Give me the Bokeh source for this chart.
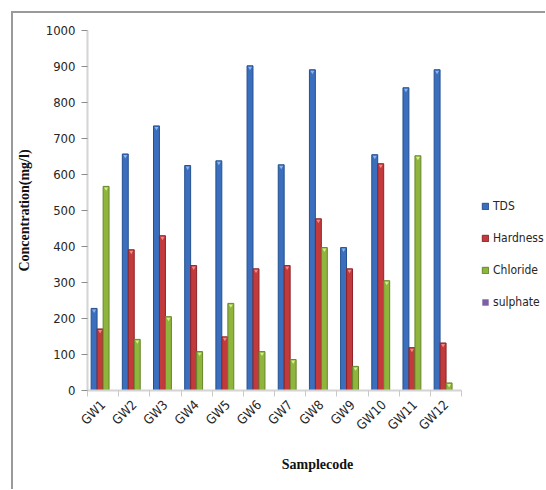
import numpy as np
from bokeh.plotting import figure
from bokeh.models import ColumnDataSource, FixedTicker, Legend, LegendItem
from bokeh.embed import file_html
from bokeh.resources import INLINE

# Sample codes and measured concentrations (mg/l)
samples = ["GW1", "GW2", "GW3", "GW4", "GW5", "GW6",
           "GW7", "GW8", "GW9", "GW10", "GW11", "GW12"]
tds = [228, 657, 735, 625, 638, 902, 627, 891, 397, 655, 841, 891]
hardness = [171, 391, 430, 347, 149, 338, 347, 477, 338, 630, 119, 132]
chloride = [567, 142, 205, 108, 242, 108, 86, 397, 67, 305, 652, 21]
sulphate = [0, 0, 0, 0, 0, 0, 0, 0, 0, 0, 0, 0]

series_names = ["TDS", "Hardness", "Chloride", "sulphate"]
series_values = [tds, hardness, chloride, sulphate]
fills = ["#3B6FBE", "#C23A3C", "#8FB53C", "#7D5FA6"]
edges = ["#24508F", "#8E2426", "#65862A", "#5A4280"]
tops = ["#8DB4EA", "#F08A8A", "#D6EE8E", "#B9A2DA"]
offsets = [-0.288, -0.096, 0.096, 0.288]
bar_w = 0.19

SANS = "DejaVu Sans Condensed"
SERIF = "Liberation Serif"

n = len(samples)
W, H = 534, 478
left_b, top_b = 73, 17
# plot area: 375 px for the samples, the rest of the width holds the legend
frame_w, sample_w = W - left_b, 375
x_end = n * frame_w / sample_w

p = figure(width=W, height=H, output_backend="svg", toolbar_location=None,
           x_range=(0, x_end), y_range=(0, 1000),
           min_border_left=left_b, min_border_right=0,
           min_border_top=top_b, min_border_bottom=H - top_b - 360)
p.outline_line_color = None
p.grid.grid_line_color = None
p.background_fill_color = "white"
p.border_fill_color = "white"
# grey chart-area border on the top and left
p.styles = {"margin-left": "11px", "margin-top": "11px",
            "border-left": "2px solid #9A9A9A",
            "border-top": "2px solid #9A9A9A",
            "overflow": "hidden"}

centers = np.arange(n) + 0.5
items = []
for name, vals, fc, ec, tc, off in zip(series_names, series_values, fills,
                                       edges, tops, offsets):
    vals = np.array(vals, dtype=float)
    src = ColumnDataSource(dict(x=centers + off, top=vals, cap=vals - 6))
    r = p.vbar(x="x", top="top", width=bar_w, source=src,
               fill_color=fc, line_color=ec if name != "sulphate" else None,
               line_width=1)
    if name != "sulphate":
        # small light bevel mark at the top of each bar
        p.scatter(x="x", y="cap", source=src, marker="inverted_triangle",
                  size=4, fill_color=tc, line_color=None)
    items.append(LegendItem(label=name, renderers=[r]))

# y axis
ya = p.yaxis[0]
ya.ticker = FixedTicker(ticks=list(range(0, 1001, 100)), minor_ticks=[])
ya.axis_line_color = "#D4D4D4"
ya.axis_line_width = 2
ya.major_tick_line_color = "#8C8C8C"
ya.major_tick_out = 6
ya.major_tick_in = 0
ya.minor_tick_line_color = None
ya.major_label_text_font = SANS
ya.major_label_text_font_size = "13px"
ya.major_label_text_color = "#262626"
ya.major_label_standoff = 6
ya.axis_label = "Concentration(mg/l)"
ya.axis_label_text_font = SERIF
ya.axis_label_text_font_style = "bold"
ya.axis_label_text_font_size = "14px"
ya.axis_label_text_color = "#111111"
ya.axis_label_standoff = 11

# x axis: labels at sample centres, ticks at sample boundaries
xa = p.xaxis[0]
xa.bounds = (0, n)
xa.ticker = FixedTicker(ticks=list(centers), minor_ticks=list(range(n + 1)))
xa.major_label_overrides = {float(c): s for c, s in zip(centers, samples)}
xa.major_tick_line_color = None
xa.major_tick_out = 0
xa.major_tick_in = 0
xa.minor_tick_line_color = "#C8C8C8"
xa.minor_tick_out = 6
xa.minor_tick_in = 0
xa.axis_line_color = "#D4D4D4"
xa.axis_line_width = 2
xa.major_label_orientation = np.pi / 4
xa.major_label_text_font = SANS
xa.major_label_text_font_size = "13px"
xa.major_label_text_color = "#262626"
xa.major_label_standoff = 6
xa.axis_label = "Samplecode"
xa.axis_label_text_font = SERIF
xa.axis_label_text_font_style = "bold"
xa.axis_label_text_font_size = "14px"
xa.axis_label_text_color = "#111111"
xa.axis_label_standoff = 16

legend = Legend(items=items, location=(394, 80), orientation="vertical",
                glyph_width=8, glyph_height=8, label_standoff=4,
                spacing=16, padding=0, margin=0, label_height=16,
                label_text_font=SANS,
                label_text_font_size="12px", label_text_color="#262626",
                border_line_color=None, background_fill_alpha=0)
p.add_layout(legend)

open("out.html", "w").write(file_html(p, INLINE))
